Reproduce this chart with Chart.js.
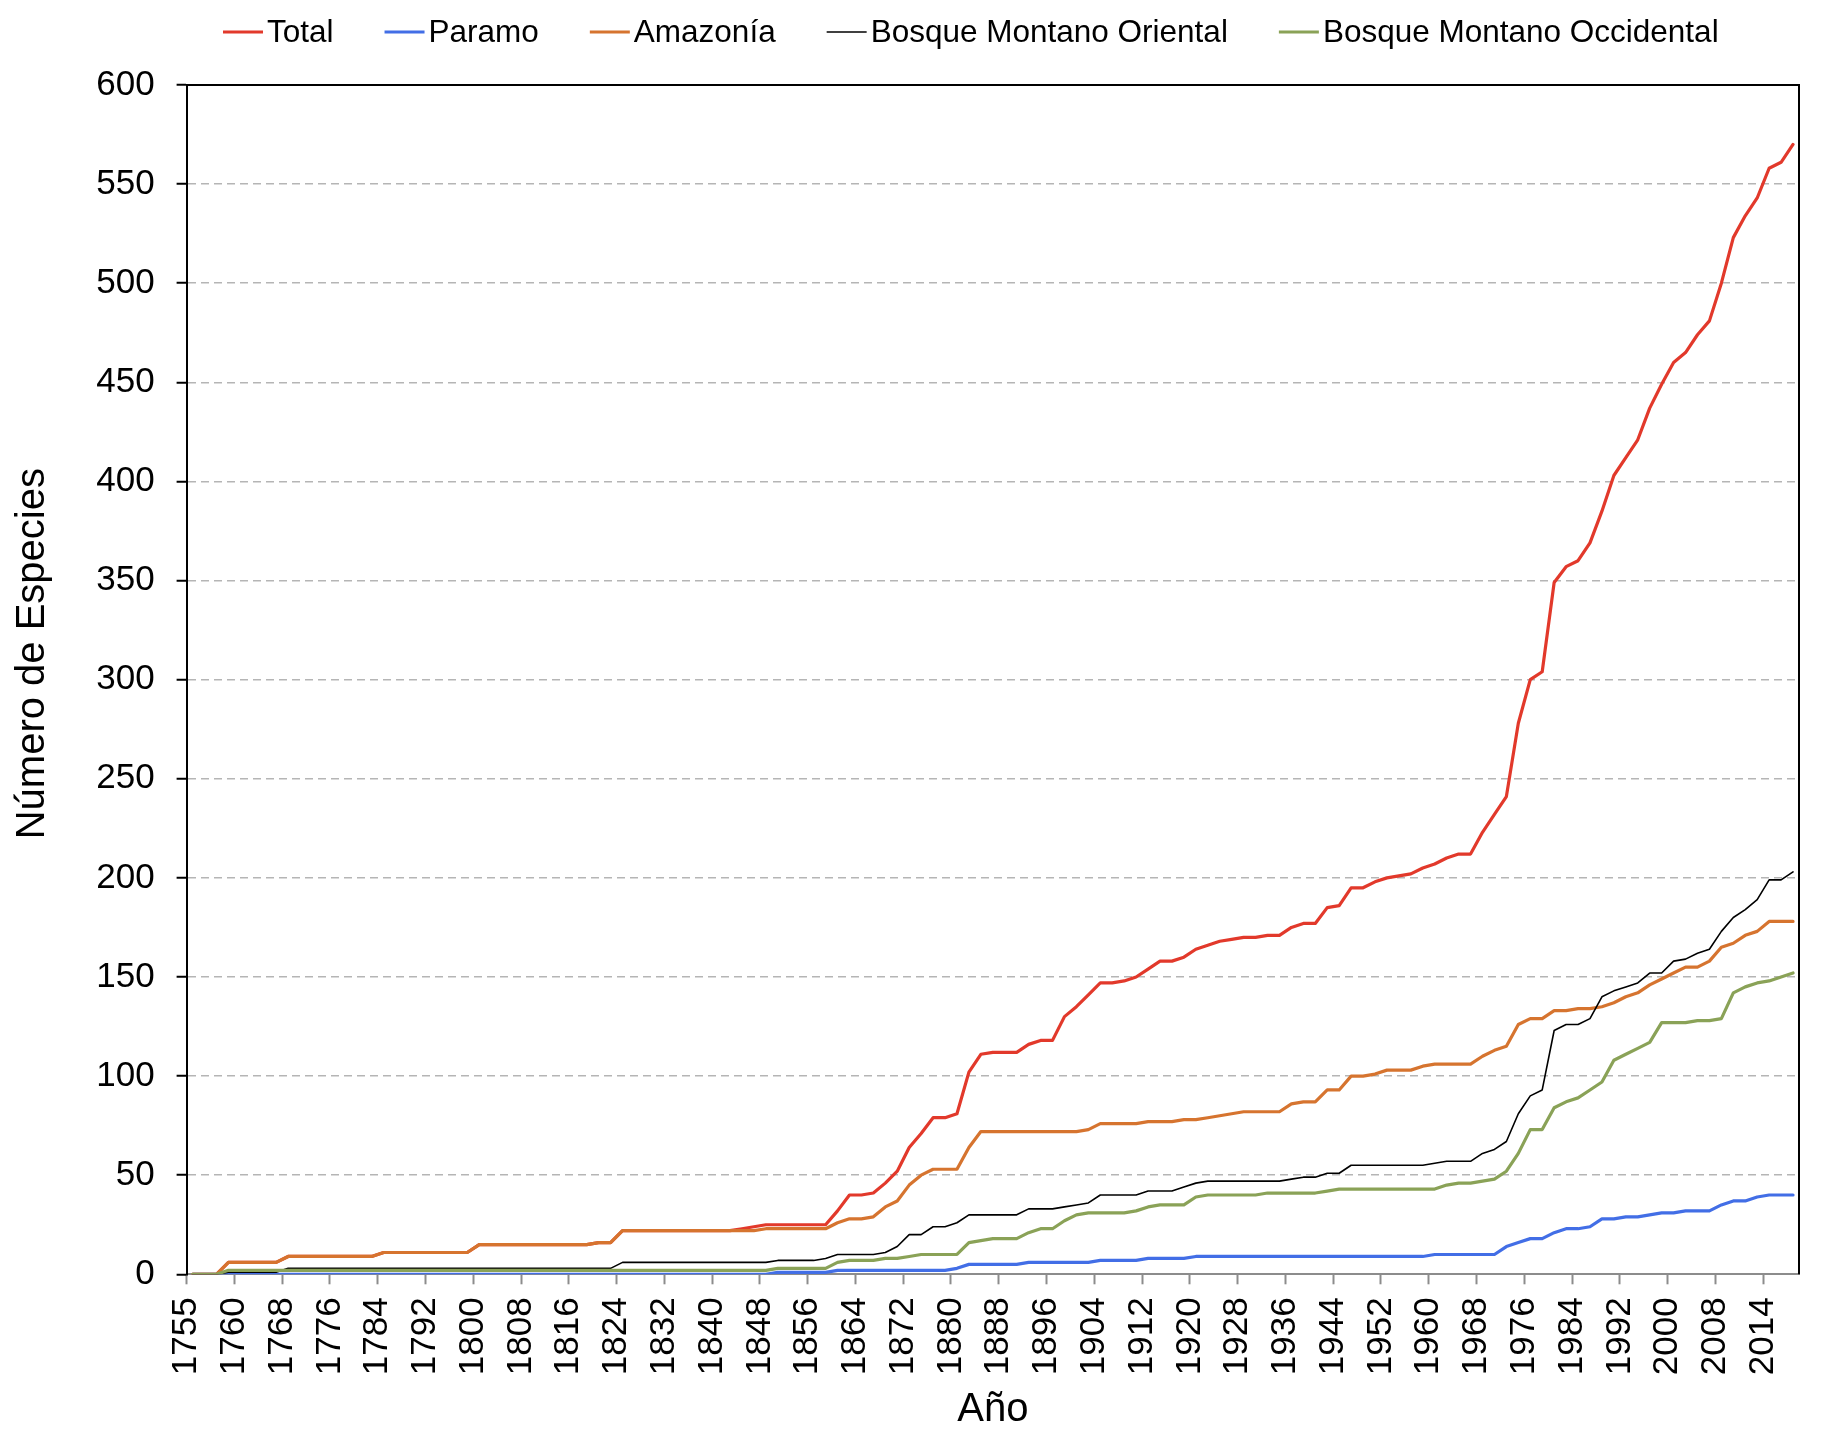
<!DOCTYPE html>
<html>
<head>
<meta charset="utf-8">
<script src="https://cdn.jsdelivr.net/npm/chart.js@4.4.1/dist/chart.umd.min.js"></script>
<style>
  html, body { margin: 0; padding: 0; background: #ffffff; }
  #wrap { width: 1840px; height: 1442px; position: relative; }
</style>
</head>
<body>
<div id="wrap"><canvas id="c"></canvas></div>
<script>
// Tick labels shown on the x axis (one every 8 half-step categories)
const tickLabels = ['1755','1760','1768','1776','1784','1792','1800','1808','1816','1824','1832','1840','1848','1856','1864','1872','1880','1888','1896','1904','1912','1920','1928','1936','1944','1952','1960','1968','1976','1984','1992','2000','2008','2014'];

const seriesNames = ['Total', 'Paramo', 'Amazonía', 'Bosque Montano Oriental', 'Bosque Montano Occidental'];

const total = [
  0,0,0,6,6,6,6,6,9,9,
  9,9,9,9,9,9,11,11,11,11,
  11,11,11,11,15,15,15,15,15,15,
  15,15,15,15,16,16,22,22,22,22,
  22,22,22,22,22,22,23,24,25,25,
  25,25,25,25,32,40,40,41,46,52,
  64,71,79,79,81,102,111,112,112,112,
  116,118,118,130,135,141,147,147,148,150,
  154,158,158,160,164,166,168,169,170,170,
  171,171,175,177,177,185,186,195,195,198,
  200,201,202,205,207,210,212,212,223,232,
  241,278,300,304,349,357,360,369,385,403,
  412,421,437,449,460,465,474,481,500,523,
  534,543,558,561,570
];

const paramo = [
  0,0,0,0,0,0,0,0,0,0,
  0,0,0,0,0,0,0,0,0,0,
  0,0,0,0,0,0,0,0,0,0,
  0,0,0,0,0,0,0,0,0,0,
  0,0,0,0,0,0,0,0,0,1,
  1,1,1,1,2,2,2,2,2,2,
  2,2,2,2,3,5,5,5,5,5,
  6,6,6,6,6,6,7,7,7,7,
  8,8,8,8,9,9,9,9,9,9,
  9,9,9,9,9,9,9,9,9,9,
  9,9,9,9,10,10,10,10,10,10,
  14,16,18,18,21,23,23,24,28,28,
  29,29,30,31,31,32,32,32,35,37,
  37,39,40,40,40
];

const amazonia = [
  0,0,0,6,6,6,6,6,9,9,
  9,9,9,9,9,9,11,11,11,11,
  11,11,11,11,15,15,15,15,15,15,
  15,15,15,15,16,16,22,22,22,22,
  22,22,22,22,22,22,22,22,23,23,
  23,23,23,23,26,28,28,29,34,37,
  45,50,53,53,53,64,72,72,72,72,
  72,72,72,72,72,73,76,76,76,76,
  77,77,77,78,78,79,80,81,82,82,
  82,82,86,87,87,93,93,100,100,101,
  103,103,103,105,106,106,106,106,110,113,
  115,126,129,129,133,133,134,134,135,137,
  140,142,146,149,152,155,155,158,165,167,
  171,173,178,178,178
];

const montanoOriental = [
  0,0,0,1,1,1,1,1,3,3,
  3,3,3,3,3,3,3,3,3,3,
  3,3,3,3,3,3,3,3,3,3,
  3,3,3,3,3,3,6,6,6,6,
  6,6,6,6,6,6,6,6,6,7,
  7,7,7,8,10,10,10,10,11,14,
  20,20,24,24,26,30,30,30,30,30,
  33,33,33,34,35,36,40,40,40,40,
  42,42,42,44,46,47,47,47,47,47,
  47,47,48,49,49,51,51,55,55,55,
  55,55,55,55,56,57,57,57,61,63,
  67,81,90,93,123,126,126,129,140,143,
  145,147,152,152,158,159,162,164,173,180,
  184,189,199,199,203
];

const montanoOccidental = [
  0,0,0,2,2,2,2,2,2,2,
  2,2,2,2,2,2,2,2,2,2,
  2,2,2,2,2,2,2,2,2,2,
  2,2,2,2,2,2,2,2,2,2,
  2,2,2,2,2,2,2,2,2,3,
  3,3,3,3,6,7,7,7,8,8,
  9,10,10,10,10,16,17,18,18,18,
  21,23,23,27,30,31,31,31,31,32,
  34,35,35,35,39,40,40,40,40,40,
  41,41,41,41,41,42,43,43,43,43,
  43,43,43,43,43,45,46,46,47,48,
  52,61,73,73,84,87,89,93,97,108,
  111,114,117,127,127,127,128,128,129,142,
  145,147,148,150,152
];

const yTitle = 'Número de Especies';
const xTitle = 'Año';

// each value sits in the middle of a pair of axis categories
const positions = total.map((_, i) => 2 * i + 1);

const FONT = '"Liberation Sans", Arial, Helvetica, sans-serif';
Chart.defaults.font.family = FONT;
Chart.defaults.color = '#000';

const styles = [
  { color: '#E2392B', width: 3.2, order: 5 },
  { color: '#426EE6', width: 3.2, order: 4 },
  { color: '#D6742F', width: 3.2, order: 3 },
  { color: '#000000', width: 1.6, order: 2 },
  { color: '#8AA257', width: 3.2, order: 1 }
];
const seriesValues = [total, paramo, amazonia, montanoOriental, montanoOccidental];

const datasets = seriesValues.map((vals, k) => ({
  label: seriesNames[k],
  data: vals,
  borderColor: styles[k].color,
  backgroundColor: styles[k].color,
  borderWidth: styles[k].width,
  pointRadius: 0,
  pointHoverRadius: 0,
  tension: 0,
  order: styles[k].order,
  borderJoinStyle: 'round',
  borderCapStyle: 'round'
}));

const framePlugin = {
  id: 'frame',
  afterDatasetsDraw(chart) {
    const { ctx, chartArea: a } = chart;
    ctx.save();
    ctx.strokeStyle = '#000';
    ctx.lineWidth = 2;
    ctx.beginPath();
    ctx.moveTo(a.left, a.top);
    ctx.lineTo(a.right, a.top);
    ctx.lineTo(a.right, a.bottom);
    ctx.stroke();
    ctx.restore();
  }
};

// Y axis title, centred a little above the middle of the plot as in the original
const yTitlePlugin = {
  id: 'yTitle',
  afterDraw(chart) {
    const { ctx, chartArea: a } = chart;
    ctx.save();
    ctx.font = '40px ' + FONT;
    ctx.fillStyle = '#000';
    ctx.textAlign = 'center';
    ctx.textBaseline = 'middle';
    ctx.translate(33, (a.top + a.bottom) / 2 - 26);
    ctx.rotate(-Math.PI / 2);
    ctx.fillText(yTitle, 0, 0);
    ctx.restore();
  }
};

const legendPlugin = {
  id: 'topLegend',
  afterDraw(chart) {
    const ctx = chart.ctx;
    ctx.save();
    ctx.font = '31.5px ' + FONT;
    ctx.textBaseline = 'middle';
    ctx.textAlign = 'left';
    let x = 223;
    const y = 32;
    chart.data.datasets.forEach(ds => {
      ctx.strokeStyle = ds.borderColor;
      ctx.lineWidth = ds.borderWidth;
      ctx.beginPath();
      ctx.moveTo(x, y);
      ctx.lineTo(x + 40, y);
      ctx.stroke();
      x += 44;
      ctx.fillStyle = '#000';
      ctx.fillText(ds.label, x, y + 1);
      x += ctx.measureText(ds.label).width + 51;
    });
    ctx.restore();
  }
};

new Chart(document.getElementById('c'), {
  type: 'line',
  data: { labels: positions, datasets },
  options: {
    responsive: true,
    maintainAspectRatio: false,
    animation: false,
    events: [],
    layout: { padding: { top: 85, right: 41, left: 0, bottom: 0 } },
    plugins: { legend: { display: false }, tooltip: { enabled: false } },
    scales: {
      x: {
        type: 'linear',
        min: 0,
        max: 270,
        afterBuildTicks: s => { s.ticks = tickLabels.map((_, k) => ({ value: 8 * k })); },
        afterFit: s => { s.height = 167.7; },
        ticks: {
          autoSkip: false,
          maxRotation: 90,
          minRotation: 90,
          color: '#000',
          font: { size: 35 },
          padding: 13,
          callback: v => tickLabels[v / 8]
        },
        grid: {
          drawOnChartArea: false,
          drawTicks: true,
          tickLength: 10,
          tickColor: '#8c8c8c',
          tickWidth: 2,
          color: '#8c8c8c'
        },
        border: { color: '#8c8c8c', width: 2 },
        title: {
          display: true,
          text: xTitle,
          color: '#000',
          font: { size: 40, lineHeight: 1 },
          padding: { top: 0, bottom: 12 }
        }
      },
      y: {
        min: 0,
        max: 600,
        afterFit: s => { s.width = 186.6; },
        ticks: { stepSize: 50, color: '#000', font: { size: 35 }, padding: 22 },
        grid: {
          color: c => (c.tick && (c.tick.value === 0 || c.tick.value === 600)) ? 'rgba(0,0,0,0)' : '#b5b5b5',
          lineWidth: 1.5,
          tickColor: '#000',
          tickLength: 10,
          tickWidth: 2
        },
        border: { color: '#000', width: 2, dash: [8, 5] },
        title: { display: false }
      }
    }
  },
  plugins: [framePlugin, yTitlePlugin, legendPlugin]
});
</script>
</body>
</html>
